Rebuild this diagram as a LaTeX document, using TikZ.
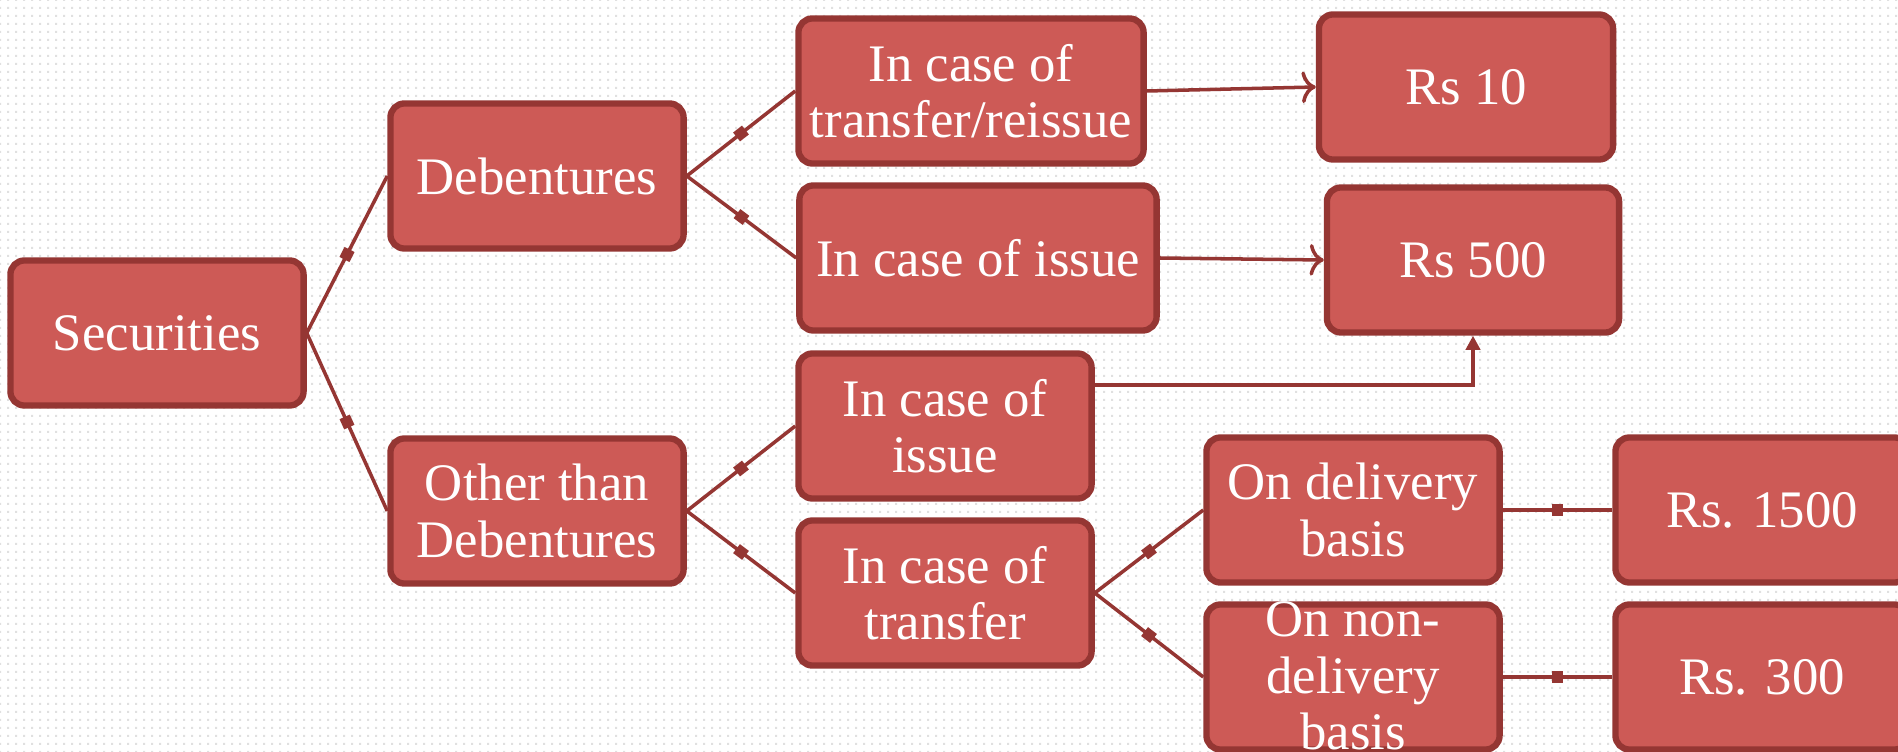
\documentclass[tikz,border=0pt]{standalone}
\usepackage{fontspec}
\setmainfont{Liberation Serif}
\usepackage{xcolor}
\usepackage{tikz}
\usetikzlibrary{positioning, arrows.meta, patterns}
\definecolor{boxred}{HTML}{CD5A56}
\definecolor{boxdark}{HTML}{953633}
\pgfdeclarepatternformonly{griddots}{\pgfpointorigin}{\pgfqpoint{2.3pt}{2.3pt}}{\pgfqpoint{2.3pt}{2.3pt}}{\pgfpathrectangle{\pgfpointorigin}{\pgfqpoint{0.7pt}{0.7pt}}\pgfusepath{fill}}

\begin{document}
\begin{tikzpicture}[x={(0.01cm,0)}, y={(0,-0.01cm)}]
	\tikzstyle{box}=[rectangle, rounded corners=4pt, draw=boxdark, line width=1.8pt, fill=boxred, text=white, align=center, minimum width=2.93cm, minimum height=1.45cm, inner sep=2pt, font=\fontsize{15}{16}\selectfont]
	\tikzstyle{link}=[draw=boxdark, line width=1pt]
	\tikzstyle{knot}=[rectangle, sloped, fill=boxdark, minimum size=3.2pt, inner sep=0pt]
	\useasboundingbox (0,0) rectangle (1898,752);
	\clip (0,0) rectangle (1898,752);
	\fill[white] (0,0) rectangle (1898,752);
	\fill[pattern=griddots, pattern color=black!12] (0,0) rectangle (1898,752);
	\node[box](sec) at (157,333) {Securities};
	\node[box](deb) at (537,176) {Debentures};
	\node[box](oth) at (537,511) {Other than\\Debentures};
	\node[box, minimum width=3.45cm](tr) at (971,91) {In case of\\transfer/reissue};
	\node[box, minimum width=3.57cm](iss) at (978,258) {In case of issue};
	\node[box, minimum width=2.94cm](rs10) at (1466,87) {Rs 10};
	\node[box, minimum width=2.92cm](rs500) at (1473,260) {Rs 500};
	\node[box](iss2) at (945,426) {In case of\\issue};
	\node[box](trf) at (945,593) {In case of\\transfer};
	\node[box](del) at (1353,510) {On delivery\\basis};
	\node[box](ndel) at (1353,677) {\smash{\raisebox{-5pt}{\begin{tabular}{@{}c@{}}On non-\\delivery\\basis\end{tabular}}}};
	\node[box](rs1500) at (1762,510) {Rs. 1500};
	\node[box](rs300) at (1762,677) {Rs. 300};
	\draw[link](sec.east) -- node[knot]{} (deb.west);
	\draw[link](sec.east) -- node[knot]{} (oth.west);
	\draw[link](deb.east) -- node[knot]{} (tr.west);
	\draw[link](deb.east) -- node[knot]{} (iss.west);
	\draw[link](oth.east) -- node[knot]{} (iss2.west);
	\draw[link](oth.east) -- node[knot]{} (trf.west);
	\draw[link](trf.east) -- node[knot]{} (del.west);
	\draw[link](trf.east) -- node[knot]{} (ndel.west);
	\draw[link](del.east) -- node[knot]{} (rs1500.west);
	\draw[link](ndel.east) -- node[knot]{} (rs300.west);
	\draw[link, -{To[length=4pt, width=9pt]}](tr.east) -- (rs10.west);
	\draw[link, -{To[length=4pt, width=9pt]}](iss.east) -- (rs500.west);
	\draw[link, -{Triangle[length=4pt, width=4pt]}]([yshift=0.41cm]iss2.east) -| (rs500.south);
\end{tikzpicture}
\end{document}
